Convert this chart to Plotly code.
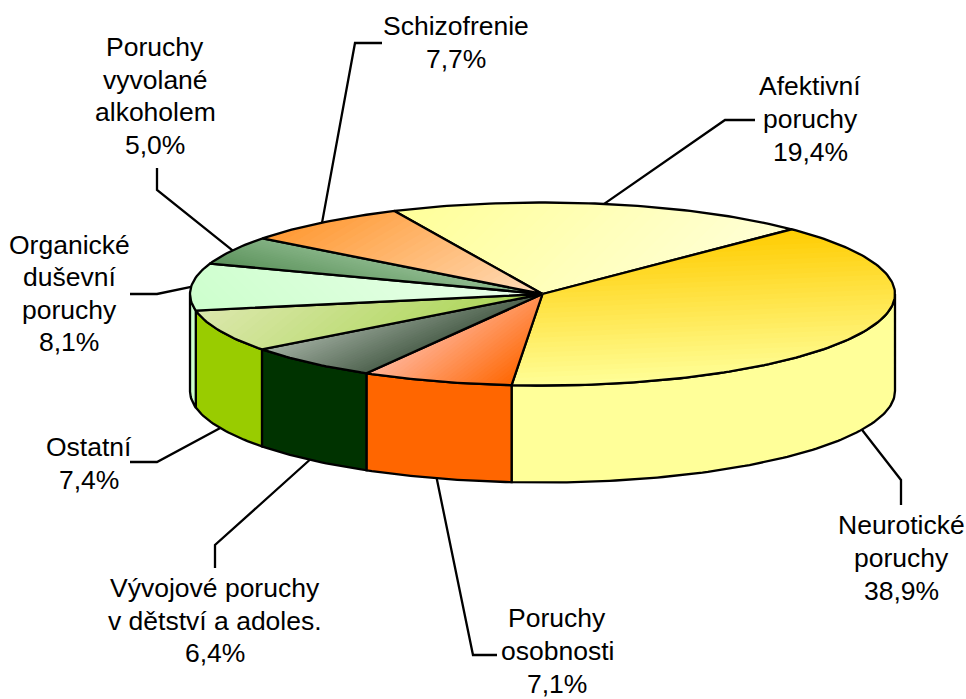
import math
import plotly.graph_objects as go

# ---- data ----
categories = ["Afektivní poruchy", "Neurotické poruchy", "Poruchy osobnosti",
              "Vývojové poruchy v dětství a adoles.", "Ostatní",
              "Organické duševní poruchy", "Poruchy vyvolané alkoholem", "Schizofrenie"]
values = [19.4, 38.9, 7.1, 6.4, 7.4, 8.1, 5.0, 7.7]
label_lines = [["Afektivní", "poruchy"], ["Neurotické", "poruchy"], ["Poruchy", "osobnosti"],
               ["Vývojové poruchy", "v dětství a adoles."], ["Ostatní"],
               ["Organické", "duševní", "poruchy"], ["Poruchy", "vyvolané", "alkoholem"], ["Schizofrenie"]]

# ---- styles ----
side_colors = ["#FFFF99", "#FFFF99", "#FF6600", "#003300", "#99CC00", "#CCFFCC", "#669966", "#FF9933"]
grad_from = ["#FFFF99", "#FFCC00", "#FFB499", "#A3B0A3", "#DDE8AE", "#CCFFCC", "#5A915A", "#FF9933"]
grad_to = ["#FFFFD6", "#FFFF99", "#FF6600", "#4F634F", "#AAD555", "#EBFFEB", "#92BD92", "#FFDDBB"]
grad_dir = [(1, 1), (0.04, 1), (1, 1.3), (0.45, 1), (0.8, 1), (1, -1), (0.25, -1), (0.7, 1.2)]

# ---- layout geometry (pixels) ----
W, H = 966, 699
CX, CY, RX, RY, DEPTH = 542.5, 294.0, 352.5, 91.5, 97.0
START_ANGLE = 114.85
OUTLINE = 2.3
STRIPS = 30
LINE_STEP = 32.6
FONT = dict(family="Liberation Sans, Arial, sans-serif", size=26.5, color="black")

label_pos = [(810, 119), (901, 558), (557, 651), (215, 620.5), (89, 463.5), (69, 293.5), (155, 96), (456, 42.5)]
leader_bends = [
    [(725, 120), (755, 120)], [(901, 480), (901, 505)], [(473, 655), (497, 655)],
    [(215, 545), (215, 568)], [(157, 462), (130, 462)], [(157, 294), (130, 294)],
    [(157, 190), (157, 168)], [(355, 43), (382, 43)],
]


def view_angle(deg):
    # the reference's 3D view slightly compresses the lower-left quadrant
    if -199 < deg < -95:
        return deg + 0.9 * math.sin(math.pi * (-95 - deg) / 104)
    return deg


def pt(deg, drop=0.0):
    r = math.radians(view_angle(deg))
    return CX + RX * math.cos(r), CY - RY * math.sin(r) + drop


def arc(a0, a1, drop=0.0):
    n = max(2, int(abs(a1 - a0)) + 1)
    return [pt(a0 + (a1 - a0) * i / (n - 1), drop) for i in range(n)]


def hex_mix(c0, c1, f):
    a = [int(c0[i:i + 2], 16) for i in (1, 3, 5)]
    b = [int(c1[i:i + 2], 16) for i in (1, 3, 5)]
    return "rgb(%d,%d,%d)" % tuple(round(u + (v - u) * f) for u, v in zip(a, b))


def clip(poly, d, level):
    out = []
    for i, p in enumerate(poly):
        q = poly[(i + 1) % len(poly)]
        sp = p[0] * d[0] + p[1] * d[1] - level
        sq = q[0] * d[0] + q[1] * d[1] - level
        if sp >= 0:
            out.append(p)
        if sp * sq < 0:
            f = sp / (sp - sq)
            out.append((p[0] + (q[0] - p[0]) * f, p[1] + (q[1] - p[1]) * f))
    return out


def poly_trace(poly, **kw):
    xs = [p[0] for p in poly] + [poly[0][0]]
    ys = [p[1] for p in poly] + [poly[0][1]]
    return go.Scatter(x=xs, y=ys, mode="lines", hoverinfo="skip", showlegend=False, **kw)


fig = go.Figure()
total = sum(values)
angle = START_ANGLE
spans = []
for v in values:
    spans.append((angle, angle - v / total * 360))
    angle = spans[-1][1]

# leader lines
for (a0, a1), bends in zip(spans, leader_bends):
    mid = (a0 + a1) / 2
    front = math.sin(math.radians(mid)) < 0 and abs(mid) > 0
    p = pt(mid, DEPTH if (front and not -200 < mid < -180) else 0)
    line = [p] + bends
    fig.add_trace(go.Scatter(x=[q[0] for q in line], y=[q[1] for q in line], mode="lines",
                             line=dict(color="black", width=OUTLINE), hoverinfo="skip", showlegend=False))

# walls (front half of the rim only)
for (a0, a1), col in zip(spans, side_colors):
    for lo, hi in ((-180, 0), (-540, -360)):
        s0, s1 = min(a0, hi), max(a1, lo)
        if s0 > s1:
            poly = arc(s0, s1) + arc(s1, s0, DEPTH)
            fig.add_trace(poly_trace(poly, fill="toself", fillcolor=col,
                                     line=dict(color="black", width=OUTLINE)))

# top faces with stepped diagonal gradients
for (a0, a1), c0, c1, d in zip(spans, grad_from, grad_to, grad_dir):
    poly = [(CX, CY)] + arc(a0, a1)
    proj = [p[0] * d[0] + p[1] * d[1] for p in poly]
    pmin, pmax = min(proj), max(proj)
    for s in range(STRIPS):
        sub = clip(poly, d, pmin + (pmax - pmin) * s / STRIPS)
        if len(sub) >= 3:
            fig.add_trace(poly_trace(sub, fill="toself", fillcolor=hex_mix(c0, c1, (s + 0.5) / STRIPS),
                                     line=dict(width=0)))
    fig.add_trace(poly_trace(poly, line=dict(color="black", width=OUTLINE)))

# labels: each line placed at the reference's line pitch
annotations = []
for lines, v, (x, y) in zip(label_lines, values, label_pos):
    rows = lines + [f"{v:.1f}".replace(".", ",") + "%"]
    for i, row in enumerate(rows):
        annotations.append(dict(x=x, y=y + (i - (len(rows) - 1) / 2) * LINE_STEP, xref="x", yref="y",
                                xanchor="center", yanchor="middle", text=row, showarrow=False,
                                font=FONT, align="center"))

fig.update_layout(
    width=W, height=H, autosize=False, margin=dict(l=0, r=0, t=0, b=0),
    paper_bgcolor="white", plot_bgcolor="white", showlegend=False, annotations=annotations,
    xaxis=dict(range=[0, W], visible=False, fixedrange=True),
    yaxis=dict(range=[H, 0], visible=False, fixedrange=True),
)
fig.write_html("out.html", config=dict(displayModeBar=False),
               post_script="document.body.style.margin='0';window.dispatchEvent(new Event('resize'));")
